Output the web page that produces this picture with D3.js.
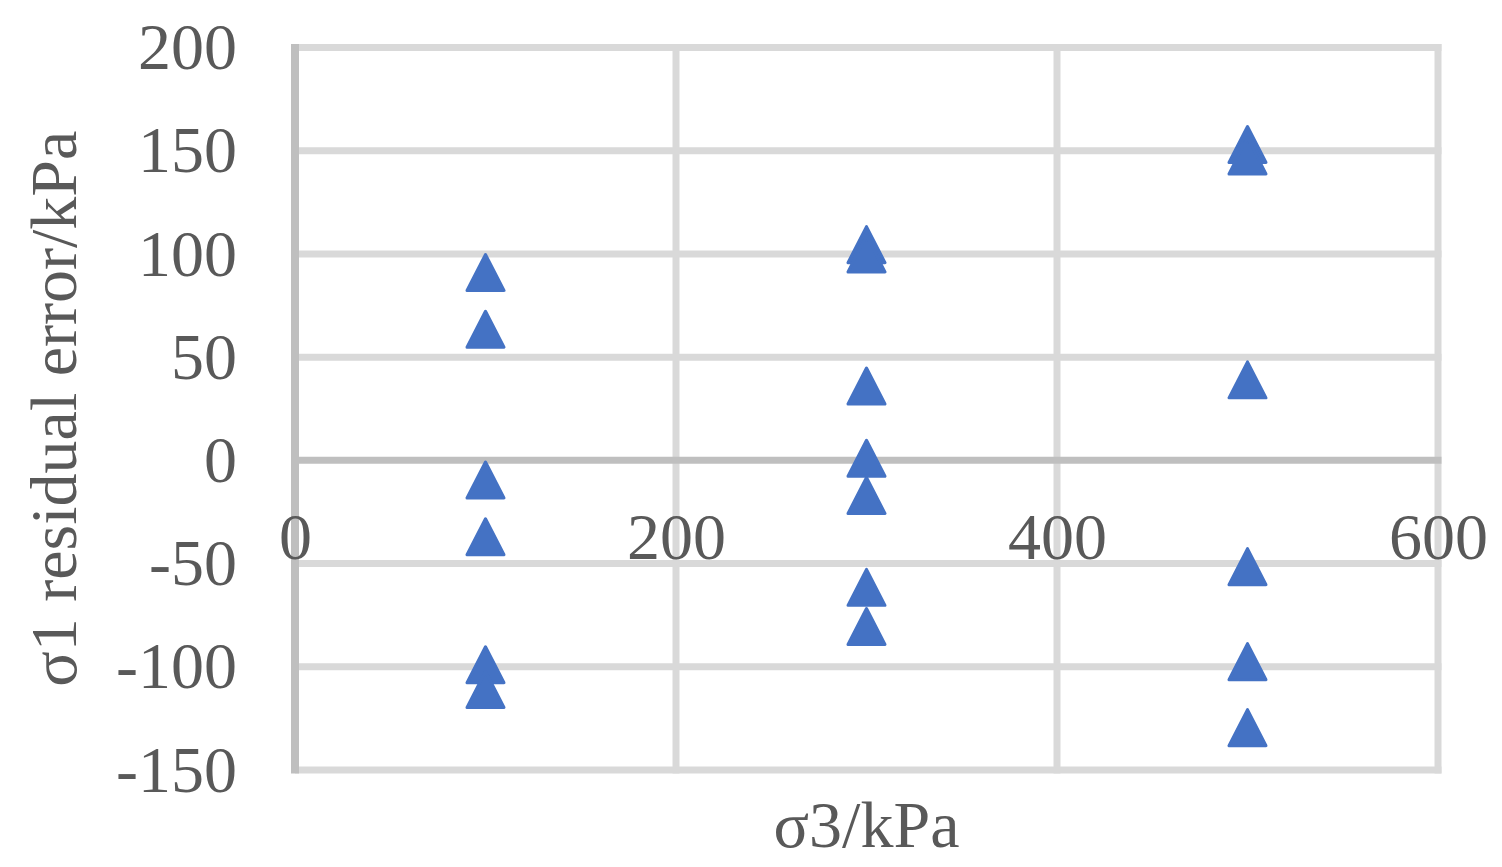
<!DOCTYPE html>
<html>
<head>
<meta charset="utf-8">
<script src="https://cdn.jsdelivr.net/npm/d3@7"></script>
<style>
  body { margin: 0; background: #fff; }
  text { font-family: "Liberation Serif", "Times New Roman", serif; fill: #595959; }
</style>
</head>
<body>
<div id="chart"></div>
<script>
// data
const sigma3 = [100, 300, 500];
const residual100 = [91, 63.5, -9.5, -37, -99, -111];
const residual300 = [104.5, 100, 36, 1, -17, -61.5, -80.5];
const residual500 = [153, 147.5, 39, -51.5, -97.5, -129.5];
const xTicks = [0, 200, 400, 600];
const yTicks = [-150, -100, -50, 0, 50, 100, 150, 200];

const points = [];
[residual100, residual300, residual500].forEach((vals, i) => {
  vals.forEach(v => points.push({ x: sigma3[i], y: v }));
});

// sizes
const W = 1502, H = 867;
const margin = { top: 47.5, right: 64, bottom: 97, left: 295 };
const width = W - margin.left - margin.right;
const height = H - margin.top - margin.bottom;

const svg = d3.select("#chart")
    .append("svg")
    .attr("width", W)
    .attr("height", H)
    .append("g")
    .attr("transform", `translate(${margin.left}, ${margin.top})`);

const x = d3.scaleLinear().domain([0, 600]).range([0, width]);
const y = d3.scaleLinear().domain([-150, 200]).range([height, 0]);

// gridlines
const gw = 7;
svg.append("g").selectAll("line")
    .data(yTicks.filter(d => d !== 0))
    .enter()
    .append("line")
    .attr("x1", 0)
    .attr("x2", width + gw / 2)
    .attr("y1", d => y(d))
    .attr("y2", d => y(d))
    .attr("stroke", "#d9d9d9")
    .attr("stroke-width", gw);

svg.append("g").selectAll("line")
    .data(xTicks.filter(d => d !== 0))
    .enter()
    .append("line")
    .attr("x1", d => x(d))
    .attr("x2", d => x(d))
    .attr("y1", -gw / 2)
    .attr("y2", height + gw / 2)
    .attr("stroke", "#d9d9d9")
    .attr("stroke-width", gw);

// axis lines (x = 0 and y = 0)
svg.append("line")
    .attr("x1", 0).attr("x2", width + gw / 2)
    .attr("y1", y(0)).attr("y2", y(0))
    .attr("stroke", "#bfbfbf")
    .attr("stroke-width", gw);

svg.append("line")
    .attr("x1", x(0)).attr("x2", x(0))
    .attr("y1", -gw / 2).attr("y2", height + gw / 2)
    .attr("stroke", "#bfbfbf")
    .attr("stroke-width", 8);

// tick labels (plain hyphen for negatives, like the original)
const fmt = d => String(d);
const yAxis = svg.append("g")
    .call(d3.axisLeft(y).tickValues(yTicks).tickFormat(fmt).tickSize(0).tickPadding(58));
const xAxis = svg.append("g")
    .attr("transform", `translate(0, ${y(0)})`)
    .call(d3.axisBottom(x).tickValues(xTicks).tickFormat(fmt).tickSize(0).tickPadding(51.5));

[xAxis, yAxis].forEach(a => {
  a.select(".domain").remove();
  a.selectAll("text")
      .style("font-family", "'Liberation Serif', 'Times New Roman', serif")
      .style("font-size", "66px")
      .attr("fill", "#595959");
});

// markers
const tri = "M0,-18L18.5,18L-18.5,18Z";
svg.append("g").selectAll("path")
    .data(points)
    .enter()
    .append("path")
    .attr("d", tri)
    .attr("transform", d => `translate(${x(d.x)}, ${y(d.y)})`)
    .attr("fill", "#4472c4")
    .attr("stroke", "#4472c4")
    .attr("stroke-width", 3)
    .attr("stroke-linejoin", "round");

// axis titles
svg.append("text")
    .attr("x", width / 2)
    .attr("y", 846.7 - margin.top)
    .attr("text-anchor", "middle")
    .style("font-size", "66px")
    .text("σ3/kPa");

svg.append("text")
    .attr("transform", "rotate(-90)")
    .attr("x", -height / 2)
    .attr("y", 76 - margin.left)
    .attr("text-anchor", "middle")
    .style("font-size", "66px")
    .text("σ1 residual error/kPa");
</script>
</body>
</html>
